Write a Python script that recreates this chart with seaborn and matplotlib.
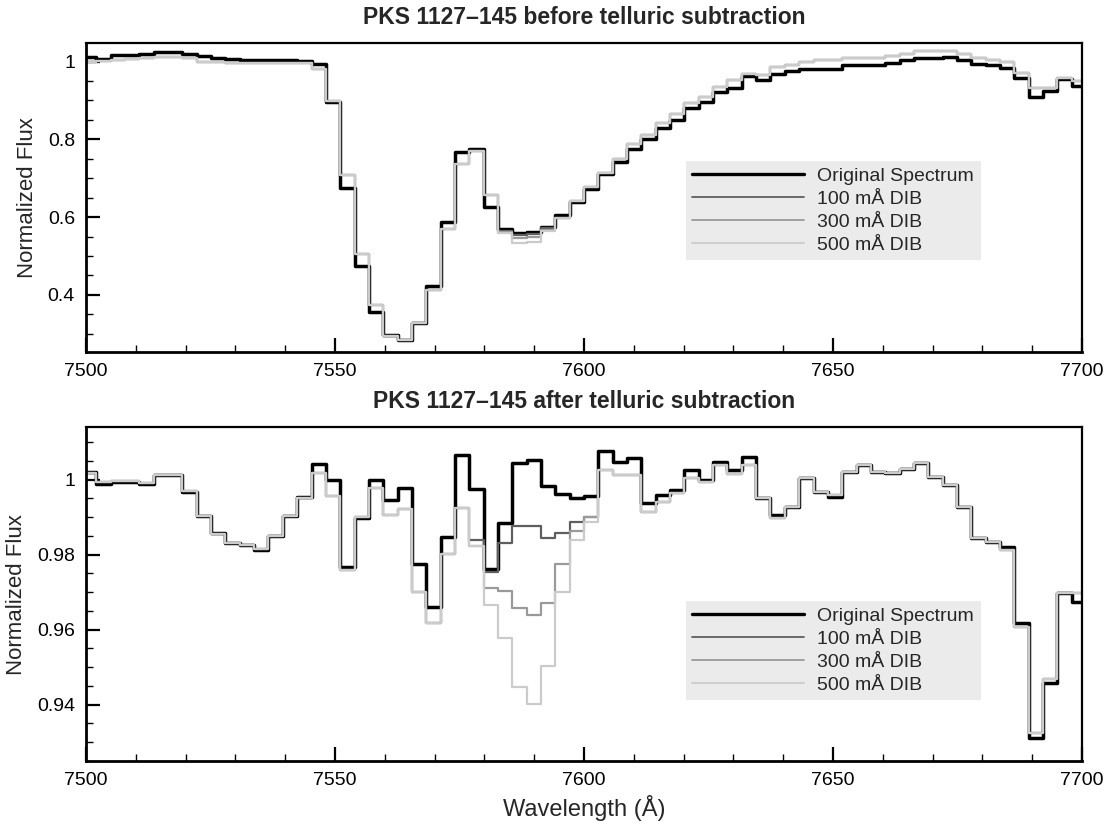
import numpy as np
import pandas as pd
import matplotlib
matplotlib.use("Agg")
import matplotlib.pyplot as plt
import matplotlib.ticker as mticker
import seaborn as sns

# ---------------- data ----------------
wavelength = [7500.64, 7503.52, 7506.40, 7509.28, 7512.16, 7515.04, 7517.92, 7520.80, 7523.68, 7526.56,
              7529.44, 7532.32, 7535.20, 7538.08, 7540.96, 7543.84, 7546.72, 7549.60, 7552.48, 7555.36,
              7558.24, 7561.12, 7564.00, 7566.88, 7569.76, 7572.64, 7575.52, 7578.40, 7581.28, 7584.16,
              7587.04, 7589.92, 7592.80, 7595.68, 7598.56, 7601.44, 7604.32, 7607.20, 7610.08, 7612.96,
              7615.84, 7618.72, 7621.60, 7624.48, 7627.36, 7630.24, 7633.12, 7636.00, 7638.88, 7641.76,
              7644.64, 7647.52, 7650.40, 7653.28, 7656.16, 7659.04, 7661.92, 7664.80, 7667.68, 7670.56,
              7673.44, 7676.32, 7679.20, 7682.08, 7684.96, 7687.84, 7690.72, 7693.60, 7696.48, 7699.36]

before_original = [1.013, 1.007, 1.017, 1.017, 1.019, 1.025, 1.025, 1.019, 1.015, 1.009,
                   1.006, 1.004, 1.003, 1.003, 1.003, 1.002, 0.995, 0.897, 0.674, 0.474,
                   0.357, 0.297, 0.284, 0.327, 0.423, 0.588, 0.768, 0.775, 0.627, 0.569,
                   0.560, 0.562, 0.575, 0.605, 0.640, 0.672, 0.711, 0.743, 0.775, 0.800,
                   0.829, 0.850, 0.880, 0.897, 0.921, 0.932, 0.962, 0.953, 0.968, 0.977,
                   0.981, 0.981, 0.981, 0.990, 0.990, 0.990, 0.996, 1.003, 1.009, 1.009,
                   1.013, 1.004, 0.994, 0.990, 0.984, 0.958, 0.908, 0.925, 0.956, 0.936]
before_100 = [1.000, 1.001, 1.004, 1.006, 1.009, 1.013, 1.013, 1.009, 1.000, 0.998,
              0.996, 0.996, 0.996, 0.996, 0.996, 0.996, 0.980, 0.899, 0.707, 0.505,
              0.374, 0.293, 0.284, 0.327, 0.412, 0.569, 0.737, 0.770, 0.657, 0.565,
              0.553, 0.556, 0.572, 0.597, 0.642, 0.678, 0.713, 0.749, 0.787, 0.812,
              0.841, 0.864, 0.893, 0.910, 0.935, 0.952, 0.969, 0.966, 0.985, 0.991,
              0.999, 1.003, 1.003, 1.009, 1.009, 1.010, 1.015, 1.020, 1.026, 1.026,
              1.027, 1.020, 1.009, 1.004, 0.999, 0.971, 0.931, 0.933, 0.957, 0.950]
before_300 = [1.000, 1.001, 1.004, 1.006, 1.009, 1.013, 1.013, 1.009, 1.000, 0.998,
              0.996, 0.996, 0.996, 0.996, 0.996, 0.996, 0.980, 0.899, 0.707, 0.505,
              0.374, 0.293, 0.284, 0.327, 0.412, 0.569, 0.737, 0.770, 0.657, 0.562,
              0.545, 0.548, 0.568, 0.597, 0.642, 0.678, 0.713, 0.749, 0.787, 0.812,
              0.841, 0.864, 0.893, 0.910, 0.935, 0.952, 0.969, 0.966, 0.985, 0.991,
              0.999, 1.003, 1.003, 1.009, 1.009, 1.010, 1.015, 1.020, 1.026, 1.026,
              1.027, 1.020, 1.009, 1.004, 0.999, 0.971, 0.931, 0.933, 0.957, 0.950]
before_500 = [1.000, 1.001, 1.004, 1.006, 1.009, 1.013, 1.013, 1.009, 1.000, 0.998,
              0.996, 0.996, 0.996, 0.996, 0.996, 0.996, 0.980, 0.899, 0.707, 0.505,
              0.374, 0.293, 0.284, 0.327, 0.412, 0.569, 0.737, 0.770, 0.657, 0.560,
              0.533, 0.535, 0.565, 0.597, 0.642, 0.678, 0.713, 0.749, 0.787, 0.812,
              0.841, 0.864, 0.893, 0.910, 0.935, 0.952, 0.969, 0.966, 0.985, 0.991,
              0.999, 1.003, 1.003, 1.009, 1.009, 1.010, 1.015, 1.020, 1.026, 1.026,
              1.027, 1.020, 1.009, 1.004, 0.999, 0.971, 0.931, 0.933, 0.957, 0.950]

after_original = [1.0021, 0.9989, 0.9995, 0.9995, 0.9989, 1.0012, 1.0012, 0.9966, 0.9903, 0.9857,
                  0.9831, 0.9826, 0.9813, 0.9850, 0.9902, 0.9953, 1.0042, 0.9999, 0.9768, 0.9897,
                  0.9999, 0.9947, 0.9977, 0.9776, 0.9660, 0.9846, 1.0066, 0.9975, 0.9761, 0.9885,
                  1.0044, 1.0052, 0.9982, 0.9962, 0.9952, 0.9957, 1.0077, 1.0046, 1.0057, 0.9937,
                  0.9959, 0.9973, 1.0026, 0.9999, 1.0048, 1.0026, 1.0061, 0.9950, 0.9906, 0.9928,
                  1.0004, 0.9968, 0.9953, 1.0021, 1.0039, 1.0021, 1.0017, 1.0028, 1.0045, 1.0008,
                  0.9986, 0.9928, 0.9844, 0.9835, 0.9820, 0.9619, 0.9310, 0.9457, 0.9697, 0.9675]
after_100 = [1.0017, 0.9995, 0.9997, 0.9997, 0.9991, 1.0011, 1.0011, 0.9969, 0.9903, 0.9855,
             0.9831, 0.9826, 0.9815, 0.9850, 0.9902, 0.9950, 1.0017, 0.9957, 0.9758, 0.9900,
             0.9977, 0.9907, 0.9922, 0.9700, 0.9617, 0.9802, 0.9925, 0.9838, 0.9755, 0.9831,
             0.9877, 0.9877, 0.9845, 0.9857, 0.9887, 0.9900, 1.0026, 1.0012, 1.0012, 0.9915,
             0.9941, 0.9964, 1.0004, 0.9995, 1.0039, 1.0015, 1.0039, 0.9950, 0.9897, 0.9928,
             1.0004, 0.9968, 0.9959, 1.0021, 1.0039, 1.0021, 1.0017, 1.0028, 1.0045, 1.0008,
             0.9986, 0.9928, 0.9844, 0.9835, 0.9813, 0.9608, 0.9325, 0.9468, 0.9697, 0.9697]
after_300 = [1.0017, 0.9995, 0.9997, 0.9997, 0.9991, 1.0011, 1.0011, 0.9969, 0.9903, 0.9855,
             0.9831, 0.9826, 0.9815, 0.9850, 0.9902, 0.9950, 1.0017, 0.9957, 0.9758, 0.9900,
             0.9977, 0.9907, 0.9922, 0.9700, 0.9617, 0.9802, 0.9925, 0.9823, 0.9711, 0.9702,
             0.9657, 0.9640, 0.9671, 0.9775, 0.9863, 0.9900, 1.0026, 1.0012, 1.0012, 0.9915,
             0.9941, 0.9964, 1.0004, 0.9995, 1.0039, 1.0015, 1.0039, 0.9950, 0.9897, 0.9928,
             1.0004, 0.9968, 0.9959, 1.0021, 1.0039, 1.0021, 1.0017, 1.0028, 1.0045, 1.0008,
             0.9986, 0.9928, 0.9844, 0.9835, 0.9813, 0.9608, 0.9325, 0.9468, 0.9697, 0.9697]
after_500 = [1.0017, 0.9995, 0.9997, 0.9997, 0.9991, 1.0011, 1.0011, 0.9969, 0.9903, 0.9855,
             0.9831, 0.9826, 0.9815, 0.9850, 0.9902, 0.9950, 1.0017, 0.9957, 0.9758, 0.9900,
             0.9977, 0.9907, 0.9922, 0.9700, 0.9617, 0.9802, 0.9925, 0.9823, 0.9666, 0.9578,
             0.9447, 0.9403, 0.9502, 0.9700, 0.9838, 0.9888, 1.0026, 1.0012, 1.0012, 0.9915,
             0.9941, 0.9964, 1.0004, 0.9995, 1.0039, 1.0015, 1.0039, 0.9950, 0.9897, 0.9928,
             1.0004, 0.9968, 0.9959, 1.0021, 1.0039, 1.0021, 1.0017, 1.0028, 1.0045, 1.0008,
             0.9986, 0.9928, 0.9844, 0.9835, 0.9813, 0.9608, 0.9325, 0.9468, 0.9697, 0.9697]

series_labels = ["Original Spectrum", "100 mÅ DIB", "300 mÅ DIB", "500 mÅ DIB"]
titles = ["PKS 1127\u2013145 before telluric subtraction",
          "PKS 1127\u2013145 after telluric subtraction"]
x_ticks = [7500, 7550, 7600, 7650, 7700]

# ---------------- style ----------------
sns.set_style("white")
plt.rcParams["font.family"] = ["Liberation Sans", "DejaVu Sans"]
plt.rcParams["axes.edgecolor"] = "black"

colors = ["#000000", "#5e5e5e", "#9a9a9a", "#cbcbcb"]
widths = [2.5, 1.6, 1.6, 1.6]
leg_widths = [2.4, 1.3, 1.3, 1.3]

fig = plt.figure(figsize=(11.1, 8.27), dpi=100)
ax_top = fig.add_axes([0.0775, 0.5744, 0.8973, 0.3732])
ax_bot = fig.add_axes([0.0775, 0.0798, 0.8973, 0.4033])

wave = np.asarray(wavelength)
half = float(np.diff(wave).mean() / 2.0)
edges = [float(w - half) for w in wave] + [float(wave[-1] + half)]

panels = [
    (ax_top, [before_original, before_100, before_300, before_500], (0.253, 1.047), 0.2, 0.05, titles[0], 0.6187),
    (ax_bot, [after_original, after_100, after_300, after_500], (0.925, 1.0139), 0.02, 0.005, titles[1], 0.4798),
]

for ax, series, ylim, ymaj, ymin, title, leg_top in panels:
    for vals, col, lw in zip(series, colors, widths):
        df = pd.DataFrame({"wave": wavelength, "flux": vals})
        sns.histplot(data=df, x="wave", weights="flux", bins=edges, element="step", fill=False,
                     color=col, linewidth=lw, ax=ax)
    ax.set_xlim(7500, 7700)
    ax.set_ylim(*ylim)
    ax.xaxis.set_major_locator(mticker.FixedLocator(x_ticks))
    ax.xaxis.set_minor_locator(mticker.MultipleLocator(10))
    ax.yaxis.set_major_locator(mticker.MultipleLocator(ymaj))
    ax.yaxis.set_minor_locator(mticker.MultipleLocator(ymin))
    ax.xaxis.set_major_formatter(mticker.FormatStrFormatter("%g"))
    ax.yaxis.set_major_formatter(mticker.FuncFormatter(lambda v, p: f"{round(v, 6):g}"))
    ax.tick_params(which="both", direction="in", left=True, bottom=True, top=False, right=False,
                   labelsize=14, colors="black")
    ax.tick_params(which="major", length=10, width=1.6, pad=8)
    ax.tick_params(which="minor", length=5, width=1.0)
    for side in ["left", "bottom"]:
        ax.spines[side].set_linewidth(2.0)
    for side in ["top", "right"]:
        ax.spines[side].set_linewidth(1.6)
    for s in ax.spines.values():
        s.set_color("black")
        s.set_visible(True)
    ax.set_ylabel("Normalized Flux", fontsize=16, labelpad=7)
    ax.set_xlabel("")
    ax.set_title(title, fontsize=16.5, fontweight="bold", pad=14)

    handles = ax.lines[:4]
    leg = ax.legend(handles, series_labels, loc="upper left",
                    bbox_to_anchor=(0.6024, leg_top),
                    borderaxespad=0, fontsize=14, frameon=True, fancybox=False,
                    facecolor="#ebebeb", edgecolor="none", framealpha=1,
                    handlelength=5.76, handletextpad=0.67, labelspacing=0.27,
                    borderpad=0.33)
    for ln, lw in zip(leg.get_lines(), leg_widths):
        ln.set_linewidth(lw)

ax_bot.set_xlabel("Wavelength (Å)", fontsize=17, labelpad=4)

fig.savefig("out.png", dpi=100)
